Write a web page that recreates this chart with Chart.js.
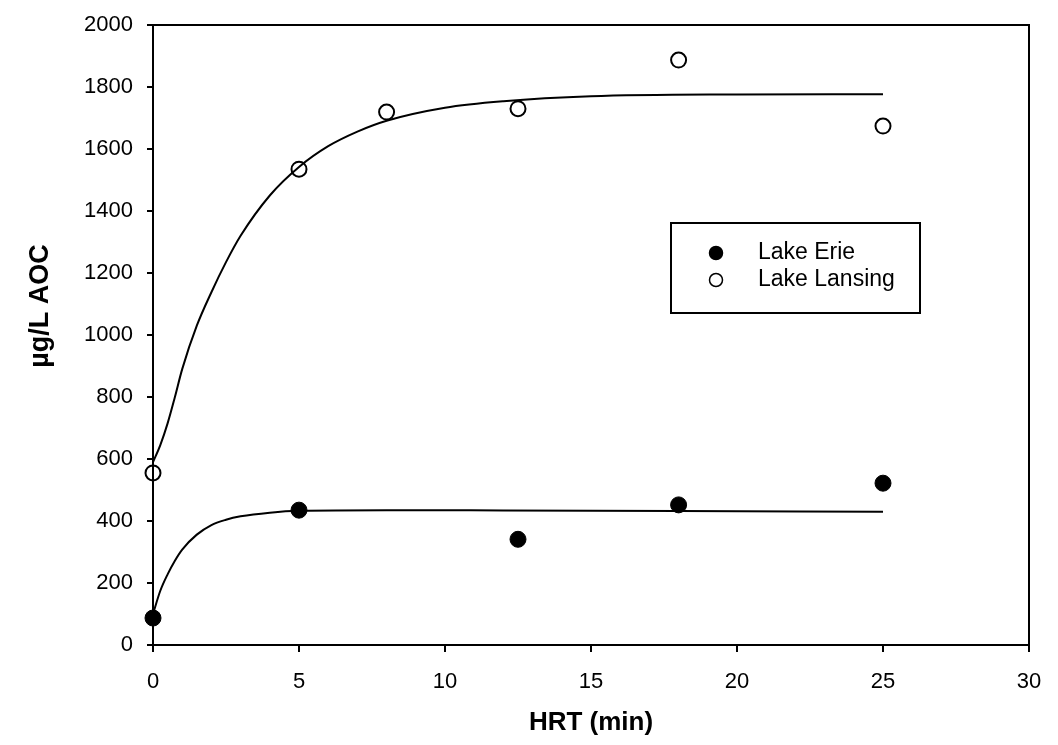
<!DOCTYPE html>
<html>
<head>
<meta charset="utf-8">
<script src="https://cdn.jsdelivr.net/npm/chart.js@4.4.1/dist/chart.umd.min.js"></script>
<style>
  html, body { margin: 0; padding: 0; background: #fff; }
  #wrap { width: 1058px; height: 745px; position: relative; }
</style>
</head>
<body>
<div id="wrap"><canvas id="aocChart"></canvas></div>
<script>
// Datos medidos
const erieX = [0, 5, 12.5, 18, 25];
const erieY = [87, 435, 341, 452, 522];
const lansingX = [0, 5, 8, 12.5, 18, 25];
const lansingY = [555, 1535, 1719, 1730, 1887, 1674];

// Curvas ajustadas
const erieFitX = [0, 0.25, 0.5, 0.75, 1, 1.5, 2, 2.5, 3, 4, 5, 8, 12, 18, 25];
const erieFitY = [100, 175, 228, 272, 308, 356, 387, 404, 415, 427, 433, 435, 434, 432, 430];
const lansingFitX = [0, 0.25, 0.5, 0.75, 1, 1.5, 2, 2.5, 3, 4, 5, 6, 7, 8, 10, 12, 15, 20, 25];
const lansingFitY = [590, 645, 715, 800, 890, 1030, 1138, 1235, 1320, 1450, 1542, 1609, 1656, 1691, 1733, 1754, 1770, 1776, 1777];

const xTicks = [0, 5, 10, 15, 20, 25, 30];
const yTicks = [0, 200, 400, 600, 800, 1000, 1200, 1400, 1600, 1800, 2000];

const toPoints = (xs, ys) => xs.map((x, i) => ({ x: x, y: ys[i] }));

const fontFamily = "'Liberation Sans', Arial, sans-serif";
Chart.defaults.font.family = fontFamily;
Chart.defaults.color = '#000';

// Marco completo, título del eje Y y leyenda dentro del área
const framePlugin = {
    id: 'frame',
    afterDraw(chart) {
        const { ctx, chartArea: a } = chart;
        ctx.save();
        ctx.strokeStyle = '#000';
        ctx.lineWidth = 2;
        ctx.strokeRect(a.left, a.top, a.right - a.left, a.bottom - a.top);

        // título eje Y
        ctx.save();
        ctx.translate(41, 306);
        ctx.rotate(-Math.PI / 2);
        ctx.fillStyle = '#000';
        ctx.font = 'bold 27px ' + fontFamily;
        ctx.textAlign = 'center';
        ctx.textBaseline = 'middle';
        ctx.fillText('µg/L AOC', 0, 0);
        ctx.restore();

        // leyenda
        const bx = 671, by = 223, bw = 249, bh = 90;
        ctx.fillStyle = '#fff';
        ctx.fillRect(bx, by, bw, bh);
        ctx.strokeRect(bx, by, bw, bh);
        const items = chart.data.datasets.filter(d => !d.showLine);
        items.forEach((d, i) => {
            const y = by + 30 + i * 27;
            ctx.beginPath();
            ctx.arc(bx + 45, y, 6.5, 0, Math.PI * 2);
            ctx.fillStyle = d.pointBackgroundColor;
            ctx.fill();
            ctx.lineWidth = 1.5;
            ctx.stroke();
            ctx.fillStyle = '#000';
            ctx.font = '23px ' + fontFamily;
            ctx.textBaseline = 'middle';
            ctx.fillText(d.label, bx + 87, y);
        });
        ctx.restore();
    }
};

new Chart(document.getElementById('aocChart'), {
    type: 'scatter',
    data: {
        datasets: [
            {
                label: 'Lake Erie fit',
                data: toPoints(erieFitX, erieFitY),
                showLine: true,
                borderColor: '#000',
                borderWidth: 2,
                pointRadius: 0,
                cubicInterpolationMode: 'monotone'
            },
            {
                label: 'Lake Lansing fit',
                data: toPoints(lansingFitX, lansingFitY),
                showLine: true,
                borderColor: '#000',
                borderWidth: 2,
                pointRadius: 0,
                cubicInterpolationMode: 'monotone'
            },
            {
                label: 'Lake Erie',
                data: toPoints(erieX, erieY),
                showLine: false,
                clip: false,
                pointRadius: 8,
                pointBackgroundColor: '#000',
                pointBorderColor: '#000',
                pointBorderWidth: 1
            },
            {
                label: 'Lake Lansing',
                data: toPoints(lansingX, lansingY),
                showLine: false,
                clip: false,
                pointRadius: 7.5,
                pointBackgroundColor: '#fff',
                pointBorderColor: '#000',
                pointBorderWidth: 2
            }
        ]
    },
    options: {
        responsive: true,
        maintainAspectRatio: false,
        animation: false,
        layout: { padding: { top: 25, right: 29, left: 0, bottom: 0 } },
        plugins: {
            legend: { display: false },
            tooltip: { enabled: false }
        },
        scales: {
            x: {
                type: 'linear',
                min: 0,
                max: 30,
                afterBuildTicks: s => { s.ticks = xTicks.map(v => ({ value: v })); },
                afterFit: s => { s.height = 100; s.paddingLeft = 0; s.paddingRight = 0; },
                ticks: { font: { size: 22 }, padding: 17, color: '#000', callback: v => String(v) },
                grid: { drawOnChartArea: false, drawTicks: true, tickLength: 7, color: '#000', lineWidth: 2 },
                border: { color: '#000', width: 2 },
                title: {
                    display: true,
                    text: 'HRT (min)',
                    font: { size: 26, weight: 'bold' },
                    color: '#000',
                    padding: { top: 0, bottom: 7 }
                }
            },
            y: {
                type: 'linear',
                min: 0,
                max: 2000,
                afterBuildTicks: s => { s.ticks = yTicks.map(v => ({ value: v })); },
                afterFit: s => { s.width = 153; s.paddingTop = 0; s.paddingBottom = 0; },
                ticks: { font: { size: 22 }, padding: 14, color: '#000', callback: v => String(v) },
                grid: { drawOnChartArea: false, drawTicks: true, tickLength: 6, color: '#000', lineWidth: 2 },
                border: { color: '#000', width: 2 }
            }
        }
    },
    plugins: [framePlugin]
});
</script>
</body>
</html>
